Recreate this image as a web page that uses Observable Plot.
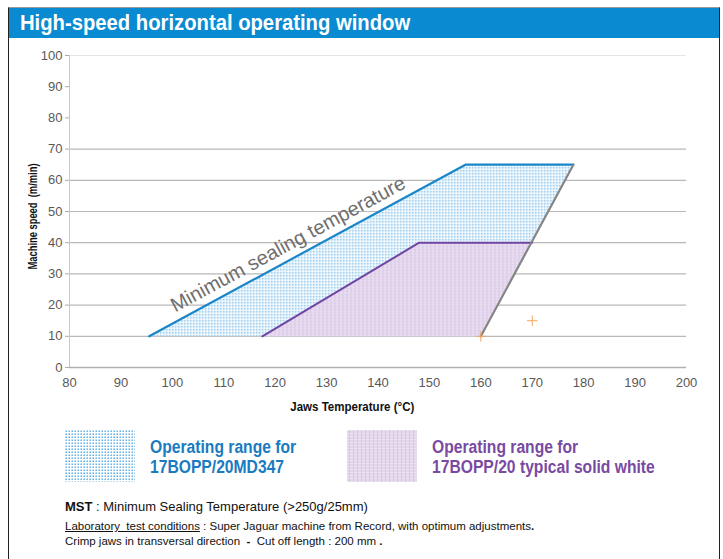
<!DOCTYPE html>
<html><head><meta charset="utf-8">
<script src="https://cdn.jsdelivr.net/npm/d3@7"></script>
<script src="https://cdn.jsdelivr.net/npm/@observablehq/plot@0.6"></script>
<style>
body{margin:0;background:#fff;}
#wrap{position:relative;width:723px;height:559px;overflow:hidden;font-family:"Liberation Sans",Arial,sans-serif;}
#frame{position:absolute;left:8px;top:7px;width:710px;height:560px;border-left:1.5px solid #222;border-right:1.5px solid #222;border-top:1px solid #999;}
#titlebar{position:absolute;left:9px;top:8px;width:710px;height:30px;background:#0a8ad0;}
#title{position:absolute;left:20px;top:8px;height:30px;color:#fff;font-weight:bold;font-size:22px;line-height:30px;white-space:nowrap;transform-origin:0 50%;transform:scaleX(0.92);}
#chart{position:absolute;left:0;top:40px;}
.leg{position:absolute;font-weight:bold;font-size:18px;line-height:20px;white-space:nowrap;transform-origin:0 0;transform:scaleX(0.87);}
.sw{position:absolute;width:70px;height:52px;}
.foot{position:absolute;left:65px;color:#111;white-space:nowrap;}
</style></head>
<body><div id="wrap">
<div id="frame"></div>
<div id="titlebar"></div>
<div id="title">High-speed horizontal operating window</div>
<div id="chart"></div>
<svg class="sw" style="left:65px;top:430px" width="70" height="52"><rect width="70" height="52" fill="url(#bluedotsL)"/></svg>
<div class="leg" style="left:150px;top:437px;color:#1a7bc1">Operating range for<br>17BOPP/20MD347</div>
<svg class="sw" style="left:347px;top:430px" width="70" height="52"><rect width="70" height="52" fill="url(#purpL)"/></svg>
<div class="leg" style="left:432px;top:437px;color:#7a4aa3">Operating range for<br>17BOPP/20 typical solid white</div>
<div class="foot" style="top:499px;font-size:13px"><b>MST</b> : Minimum Sealing Temperature (&gt;250g/25mm)</div>
<div class="foot" style="top:520px;font-size:11.5px"><u>Laboratory&nbsp; test conditions</u> : Super Jaguar machine from Record, with optimum adjustments<b>.</b></div>
<div class="foot" style="top:535px;font-size:11.5px">Crimp jaws in transversal direction&nbsp; <b>-</b>&nbsp; Cut off length : 200 mm <b>.</b></div>
</div>
<svg width="0" height="0" style="position:absolute">
<defs>
<pattern id="bluedotsL" width="3" height="3" patternUnits="userSpaceOnUse"><rect width="3" height="3" fill="#fff"/><rect x="0.5" y="0.5" width="1.4" height="1.4" fill="#4aa3e0"/></pattern>
<pattern id="purpL" width="4" height="3" patternUnits="userSpaceOnUse"><rect width="4" height="3" fill="#e2d5ec"/><rect x="0" y="0" width="4" height="1" fill="#ede4f3"/><rect x="2" y="0" width="1" height="3" fill="#d8c8e4"/></pattern>
</defs></svg>
<script>
// Data
const blueX = [95.5, 157, 178, 160];
const blueY = [10, 65, 65, 10];
const purpleX = [117.5, 148, 170, 160];
const purpleY = [10, 40, 40, 10];
const msEdgeX = [95.5, 157, 178];
const msEdgeY = [10, 65, 65];
const maxEdgeX = [178, 160];
const maxEdgeY = [65, 10];
const purpEdgeX = [117.5, 148, 170];
const purpEdgeY = [10, 40, 40];
const markX = [170, 160];
const markY = [15, 10];
const xTicks = [80, 90, 100, 110, 120, 130, 140, 150, 160, 170, 180, 190, 200];
const yTicks = [0, 10, 20, 30, 40, 50, 60, 70, 80, 90, 100];
const gridY = [10, 20, 30, 40, 50, 60, 70];
const labelText = "Minimum sealing temperature";
const labelPos = {x: 122.5, y: 39.5};
const xTitle = "Jaws Temperature (°C)";
const yTitle = "Machine speed  (m/min)";

const pts = (xs, ys) => xs.map((x, i) => ({x, y: ys[i]}));

const chart = Plot.plot({
  width: 723,
  height: 380,
  marginLeft: 69,
  marginRight: 37,
  marginTop: 15,
  marginBottom: 53,
  style: {fontFamily: "'Liberation Sans', Arial, sans-serif", fontSize: "13px", color: "#595959", background: "transparent"},
  x: {domain: [80, 200], ticks: xTicks, label: null},
  y: {domain: [0, 100], ticks: yTicks, label: null},
  marks: [
    Plot.ruleY(gridY, {stroke: "#b8b8b8", strokeWidth: 1.2}),
    Plot.ruleY([100], {stroke: "#e6e6e6", strokeWidth: 1}),
    Plot.ruleX([80], {y1: 0, y2: 100, stroke: "#c8c8c8"}),
    Plot.ruleY([0], {stroke: "#b0b0b0", strokeWidth: 1.5}),
    Plot.line(pts(blueX, blueY), {x: "x", y: "y", fill: "url(#bluedots)", stroke: "none"}),
    Plot.line(pts(purpleX, purpleY), {x: "x", y: "y", fill: "url(#purp)", stroke: "none"}),
    Plot.line(pts(msEdgeX, msEdgeY), {x: "x", y: "y", stroke: "#1a86c8", strokeWidth: 2.2}),
    Plot.line(pts(purpEdgeX, purpEdgeY), {x: "x", y: "y", stroke: "#6f45a3", strokeWidth: 2}),
    Plot.line(pts(maxEdgeX, maxEdgeY), {x: "x", y: "y", stroke: "#858585", strokeWidth: 2.2}),
    Plot.dot(pts(markX, markY), {x: "x", y: "y", symbol: "plus", stroke: "#f5a560", r: 3.5, strokeWidth: 1}),
    Plot.text([labelPos], {x: "x", y: "y", text: () => labelText, rotate: -28.4, fontSize: 20, fill: "#6e6e6e"}),
    Plot.axisX({ticks: xTicks, tickSize: 0, tickPadding: 10, fontSize: 13, fill: "#595959", label: null}),
    Plot.axisY({ticks: yTicks, tickSize: 4, tickPadding: 3, stroke: "#aaa", fontSize: 13, fill: "#595959", label: null}),
    Plot.text([{x: 135, y: 0}], {x: "x", y: "y", text: () => xTitle, dy: 39, fontWeight: "bold", fontSize: 12.5, fill: "#111", className: "xtitle"}),
    Plot.text([{x: 80, y: 50}], {x: "x", y: "y", text: () => yTitle, dx: -37, dy: 5, rotate: -90, fontWeight: "bold", fontSize: 13, fill: "#111", className: "ytitle"})
  ]
});
const defs = d3.select(chart).insert("defs", ":first-child");
const p1 = defs.append("pattern").attr("id", "bluedots").attr("width", 3).attr("height", 3).attr("patternUnits", "userSpaceOnUse");
p1.append("rect").attr("width", 3).attr("height", 3).attr("fill", "#fff");
p1.append("rect").attr("x", 0.5).attr("y", 0.5).attr("width", 1.4).attr("height", 1.4).attr("fill", "#4aa3e0");
const p2 = defs.append("pattern").attr("id", "purp").attr("width", 4).attr("height", 3).attr("patternUnits", "userSpaceOnUse");
p2.append("rect").attr("width", 4).attr("height", 3).attr("fill", "#e2d5ec");
p2.append("rect").attr("width", 4).attr("height", 1).attr("fill", "#ede4f3");
p2.append("rect").attr("x", 2).attr("width", 1).attr("height", 3).attr("fill", "#d8c8e4");
d3.select(chart).selectAll(".xtitle text").attr("textLength", 124).attr("lengthAdjust", "spacingAndGlyphs");
d3.select(chart).selectAll(".ytitle text").attr("textLength", 106).attr("lengthAdjust", "spacingAndGlyphs");
document.getElementById("chart").appendChild(chart);
</script>
</body></html>
